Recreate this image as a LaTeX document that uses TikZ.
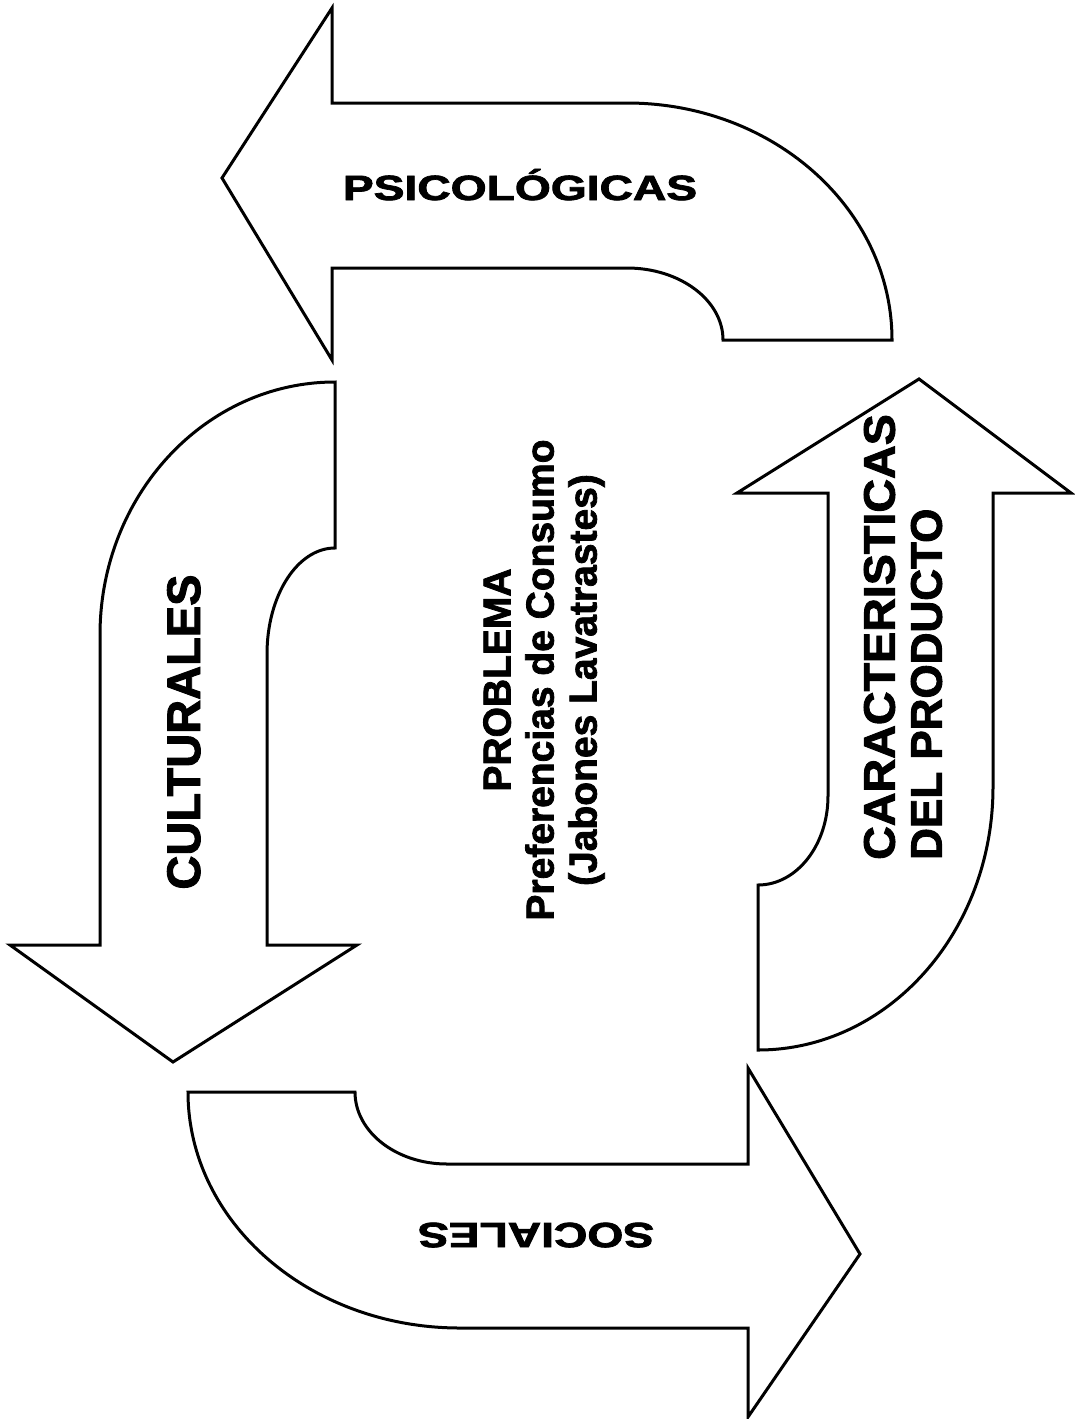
\documentclass[tikz,border=0pt]{standalone}
\usepackage{fontspec}
\setmainfont{Liberation Sans}[BoldFeatures={FakeBold=2}]
\usepackage{graphicx}

\begin{document}
\begin{tikzpicture}[x=1pt, y=-1pt,
        flecha/.style={draw=black, line width=3pt, line join=miter, fill=white},
        rotulo/.style={inner sep=0pt}]

        \useasboundingbox (0,0) rectangle (1074,1419);

        % Psicologicas (arriba)
        \draw[flecha] (332,103) -- (627,103)
            arc[start angle=-90, end angle=0, x radius=265, y radius=237]
            -- (723,340)
            arc[start angle=0, end angle=-90, x radius=96, y radius=72]
            -- (332,268) -- (332,360) -- (222,178) -- (332,8) -- cycle;
        \node[rotulo, anchor=base, font=\bfseries\fontsize{35}{40}\selectfont] (psico) at (520,200) {
            \scalebox{1.32}[1]{PSICOLÓGICAS}
        };

        % Culturales (izquierda)
        \draw[flecha] (335,382) -- (335,548)
            arc[start angle=-90, end angle=-180, x radius=68, y radius=106]
            -- (267,945) -- (357,945) -- (173,1062) -- (10,945) -- (100,945) -- (100,635)
            arc[start angle=180, end angle=270, x radius=235, y radius=253]
            -- cycle;
        \node[rotulo, rotate=90, anchor=base, font=\bfseries\fontsize{47}{52}\selectfont] (cult) at (200,732) {
            CULTURALES
        };

        % Caracteristicas del producto (derecha)
        \draw[flecha] (737,493) -- (828,493) -- (828,796)
            arc[start angle=0, end angle=90, x radius=70, y radius=89]
            -- (758,1050)
            arc[start angle=90, end angle=0, x radius=235, y radius=263]
            -- (993,493) -- (1071,493) -- (919,379) -- cycle;
        \node[rotulo, rotate=90, anchor=west, align=left, font=\bfseries\fontsize{44}{47}\selectfont] (carac) at (903,860) {
            \scalebox{1.06}[1]{CARACTERISTICAS}\\
            DEL PRODUCTO
        };

        % Sociales (abajo, al reves)
        \draw[flecha] (188,1092) -- (355,1092)
            arc[start angle=180, end angle=90, x radius=92, y radius=72]
            -- (748,1164) -- (748,1068) -- (860,1254) -- (748,1417) -- (748,1328) -- (460,1328)
            arc[start angle=90, end angle=180, x radius=272, y radius=236]
            -- cycle;
        \node[rotulo, rotate=180, anchor=base, font=\bfseries\fontsize{35}{40}\selectfont] (soc) at (536,1223) {
            \scalebox{1.32}[1]{SOCIALES}
        };

        % Centro
        \node[rotulo, rotate=90, align=center, font=\bfseries\fontsize{39}{43}\selectfont] (problema) at (544,680) {
            PROBLEMA\\
            Preferencias de Consumo\\
            (Jabones Lavatrastes)
        };

    \end{tikzpicture}
\end{document}
